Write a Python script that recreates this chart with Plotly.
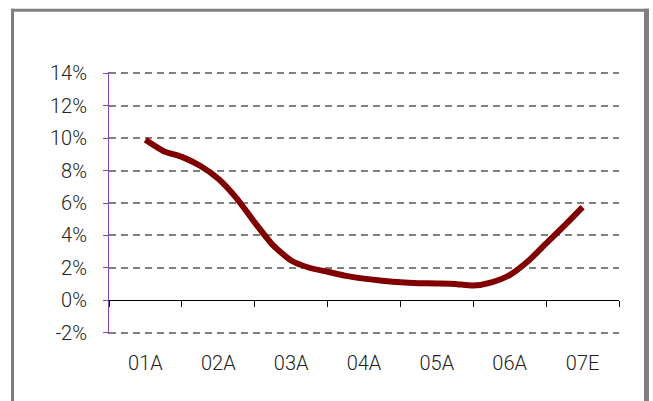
import numpy as np
import plotly.graph_objects as go

# Year labels along the bottom
categories = ["01A", "02A", "03A", "04A", "05A", "06A", "07E"]

# Quarterly growth readings (%), first quarter of 01A through 07E
growth_pct = [9.9, 9.2, 8.85, 8.3, 7.5, 6.3, 4.8, 3.4, 2.45, 2.0,
              1.75, 1.5, 1.33, 1.2, 1.1, 1.05, 1.03, 1.0, 0.9, 1.1,
              1.55, 2.4, 3.5, 4.6, 5.75]

# Value axis ticks
y_ticks = [-2, 0, 2, 4, 6, 8, 10, 12, 14]
y_labels = [f"{v}%" for v in y_ticks]

W, H = 653, 401
# pixel box of the -2%..14% band
BAND_L, BAND_R, BAND_T, BAND_B = 109, 619, 73, 333
PAD = 1.5  # extra pixels above/below so the end gridlines are kept
Y_MIN, Y_MAX = y_ticks[0], y_ticks[-1]
unit_per_px = (Y_MAX - Y_MIN) / (BAND_B - BAND_T)
y_range = [Y_MIN - PAD * unit_per_px, Y_MAX + PAD * unit_per_px]

L, R = BAND_L, W - BAND_R
T, B = BAND_T - PAD, H - BAND_B - PAD

FONT = "Roboto"
TEXT = "#222222"
GRID = "#808080"
AXIS_PURPLE = "#8b3fa8"
LINE_RED = "#800000"
FRAME = "#808080"

x_pos = np.arange(len(growth_pct)) / 4.0
n_cat = len(categories)
boundaries = [i - 0.5 for i in range(n_cat + 1)]

fig = go.Figure()
fig.add_trace(go.Scatter(
    x=x_pos, y=growth_pct, mode="lines",
    line=dict(color=LINE_RED, width=6, shape="spline", smoothing=0.6),
    hoverinfo="skip", showlegend=False,
))
# carrier trace for the baseline axis drawn at 0%
fig.add_trace(go.Scatter(x=[], y=[], xaxis="x2", yaxis="y",
                         hoverinfo="skip", showlegend=False))


def paper_x(px):
    return (px - L) / (W - L - R)


def paper_y(py):
    return (H - B - py) / (H - T - B)


frame = dict(color=FRAME)
shapes = [
    dict(type="line", xref="paper", yref="paper",
         x0=paper_x(11), x1=paper_x(649), y0=paper_y(9.5), y1=paper_y(9.5),
         line=dict(width=3, **frame)),
    dict(type="line", xref="paper", yref="paper",
         x0=paper_x(12.5), x1=paper_x(12.5), y0=paper_y(8), y1=paper_y(410),
         line=dict(width=3, **frame)),
    dict(type="line", xref="paper", yref="paper",
         x0=paper_x(646.5), x1=paper_x(646.5), y0=paper_y(8), y1=paper_y(410),
         line=dict(width=5, **frame)),
]

tick_font = dict(family=FONT, size=20, color=TEXT, weight=300)

fig.update_layout(
    width=W, height=H,
    margin=dict(l=L, r=R, t=T, b=B, pad=0),
    paper_bgcolor="white", plot_bgcolor="white",
    font=tick_font,
    shapes=shapes,
    xaxis=dict(
        range=[-0.5, n_cat - 0.5], tickmode="array",
        tickvals=list(range(n_cat)), ticktext=categories,
        showgrid=False, zeroline=False, showline=False, ticks="",
        ticklabelstandoff=15, tickfont=tick_font,
    ),
    xaxis2=dict(
        overlaying="x", matches="x", anchor="free",
        position=(0 - y_range[0]) / (y_range[1] - y_range[0]),
        tickmode="array", tickvals=boundaries,
        showticklabels=False, showgrid=False, zeroline=False,
        showline=True, linecolor="#000000", linewidth=1,
        ticks="outside", ticklen=6, tickwidth=1, tickcolor="#000000",
    ),
    yaxis=dict(
        range=y_range, tickmode="array",
        tickvals=y_ticks, ticktext=y_labels,
        showgrid=True, gridcolor=GRID, gridwidth=1.5, griddash="7px,5px",
        zeroline=True, zerolinecolor="#000000", zerolinewidth=1,
        showline=True, linecolor=AXIS_PURPLE, linewidth=1,
        ticks="outside", ticklen=5, tickwidth=1, tickcolor=AXIS_PURPLE,
        ticklabelstandoff=12, tickfont=tick_font,
    ),
)

fig.write_html("out.html")
